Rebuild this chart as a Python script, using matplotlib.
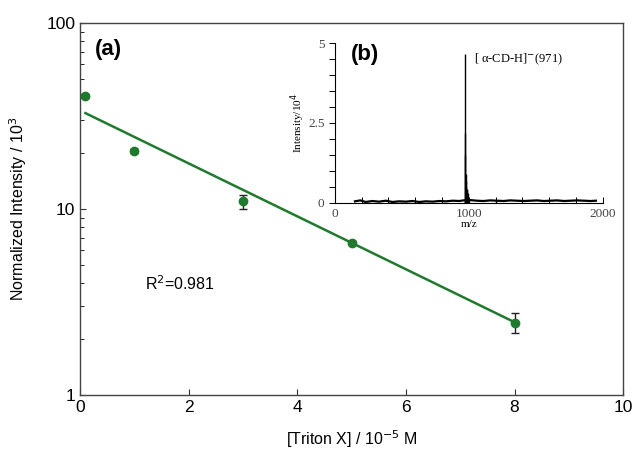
import matplotlib
matplotlib.use("Agg")
import matplotlib.pyplot as plt
from matplotlib.ticker import MultipleLocator
import numpy as np

# main panel (a): intensity vs surfactant concentration
triton = [0.1, 1, 3, 5, 8]
intensity = [40.5, 20.5, 11.0, 6.6, 2.45]
intensity_err = [0.9, 0.6, 0.95, 0.15, 0.3]
fit_a = 33.9      # fitted prefactor (10^3)
fit_k = 0.3277    # fitted decay constant
r2_text = "R$^2$=0.981"

# inset (b): mass spectrum
peak_mz = [971, 973, 975, 977, 979, 982, 985, 988, 991, 995, 1000, 1200]
peak_int = [4.66, 2.2, 1.5, 0.9, 0.7, 0.5, 0.45, 0.4, 0.3, 0.2, 0.12, 0.08]
base_mz = [150, 190, 230, 280, 330, 380, 430, 480, 530, 580, 630, 680, 730,
           780, 830, 880, 930, 960, 1010, 1060, 1110, 1160, 1210, 1260, 1310,
           1360, 1410, 1460, 1510, 1560, 1610, 1660, 1710, 1760, 1810, 1860,
           1910, 1950]
base_int = [0.05, 0.08, 0.03, 0.06, 0.04, 0.07, 0.03, 0.05, 0.04, 0.06, 0.03,
            0.05, 0.04, 0.06, 0.05, 0.07, 0.06, 0.08, 0.09, 0.07, 0.06, 0.08,
            0.07, 0.06, 0.08, 0.07, 0.06, 0.07, 0.08, 0.06, 0.07, 0.08, 0.06,
            0.07, 0.08, 0.07, 0.06, 0.07]

green = "#1f7a2e"
sans = ["Liberation Sans", "DejaVu Sans"]
serif = ["Liberation Serif", "DejaVu Serif"]

fig = plt.figure(figsize=(6.33, 4.53), dpi=100)
ax = fig.add_axes([0.1264, 0.128, 0.858, 0.821])

ax.errorbar(triton, intensity, yerr=intensity_err, fmt="o", color=green,
            ms=6, ecolor="#222222", elinewidth=1, capsize=3, zorder=3)
xf = np.linspace(triton[0], triton[-1], 100)
ax.plot(xf, fit_a * np.exp(-fit_k * xf), color=green, lw=1.8, zorder=2)

ax.set_yscale("log")
ax.set_ylim(1, 100)
ax.set_xlim(0, 10)
ax.xaxis.set_major_locator(MultipleLocator(2))
ax.set_yticks([1, 10, 100])
ax.set_yticklabels(["1", "10", "100"])
ax.tick_params(direction="in", length=4, width=0.8, labelsize=12.5, colors="#333333")
ax.tick_params(axis="y", which="minor", direction="in", length=3, width=0.6)
for lab in ax.get_xticklabels() + ax.get_yticklabels():
    lab.set_family(sans)
    lab.set_color("black")
for s in ax.spines.values():
    s.set_color("#444444")
    s.set_linewidth(1.0)

ax.set_xlabel("[Triton X] / 10$^{-5}$ M", family=sans, fontsize=11.5, labelpad=10)
ax.set_ylabel("Normalized Intensity / 10$^3$", family=sans, fontsize=11.5, labelpad=12)

ax.text(0.028, 0.93, "(a)", transform=ax.transAxes, family=sans,
        fontsize=16, fontweight="bold", va="center")
ax.text(0.12, 0.3, r2_text, transform=ax.transAxes, family=sans,
        fontsize=11.5, va="center")

# inset
ins = fig.add_axes([0.529, 0.552, 0.423, 0.353])
ins.vlines(peak_mz, 0, peak_int, color="black", lw=1.0)
ins.plot(base_mz, base_int, color="black", lw=1.6)
ins.set_xlim(0, 2000)
ins.set_ylim(0, 5)
for side in ["top", "right"]:
    ins.spines[side].set_visible(False)
for side in ["left", "bottom"]:
    ins.spines[side].set_linewidth(0.8)
ins.set_xticks([0, 1000, 2000])
ins.xaxis.set_minor_locator(MultipleLocator(200))
ins.set_yticks([0, 2.5, 5])
ins.set_yticklabels(["0", "2.5", "5"])
ins.yaxis.set_minor_locator(MultipleLocator(0.5))
ins.tick_params(axis="x", which="both", direction="in", length=4, width=0.7, labelsize=9.5)
ins.tick_params(axis="y", which="both", direction="out", length=4, width=0.7, labelsize=9.5)
for lab in ins.get_xticklabels() + ins.get_yticklabels():
    lab.set_family(serif)
    lab.set_color("#444444")
ins.set_xlabel("m/z", family=serif, fontsize=8, labelpad=0)
ins.set_ylabel("Intensity/10$^4$", family=serif, fontsize=8, labelpad=1)
ins.text(0.52, 0.9, "[ \u03b1-CD-H]$^{-}$(971)", transform=ins.transAxes,
         family=serif, fontsize=9, va="center")
ins.text(0.06, 0.93, "(b)", transform=ins.transAxes, family=sans,
         fontsize=16, fontweight="bold", va="center")
ins.patch.set_alpha(0)

fig.savefig("out.png", dpi=100)
